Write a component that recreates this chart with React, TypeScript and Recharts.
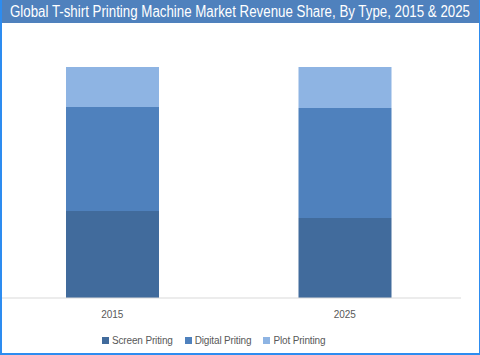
import { BarChart, Bar, XAxis, YAxis, Legend } from 'recharts'

const years = ['2015', '2025']
const screenPrinting = [37.7, 34.6]
const digitalPrinting = [45.0, 47.7]
const plotPrinting = [17.3, 17.7]

const seriesNames = ['Screen Priting', 'Digital Priting', 'Plot Printing']
const seriesColors = ['#416B9C', '#4F81BD', '#8EB4E3']

const chartData = years.map((year, i) => ({
  year,
  screen: screenPrinting[i],
  digital: digitalPrinting[i],
  plot: plotPrinting[i],
}))

const font = '"Liberation Sans", Arial, sans-serif'

function LegendContent({ payload }: { payload?: any[] }) {
  const items = [...(payload || [])].sort(
    (a, b) => seriesNames.indexOf(a.value) - seriesNames.indexOf(b.value)
  )
  return (
    <div style={{ height: 20, display: 'flex', alignItems: 'center', paddingLeft: 106 }}>
      {items.map((entry) => (
        <div key={entry.value} style={{ display: 'flex', alignItems: 'center', marginRight: 12 }}>
          <span style={{ width: 7, height: 7, background: entry.color, marginRight: 3 }} />
          <span style={{ fontSize: 10, color: '#595959', fontFamily: font, letterSpacing: -0.15 }}>
            {entry.value}
          </span>
        </div>
      ))}
    </div>
  )
}

export default function App() {
  return (
    <div
      style={{
        position: 'absolute',
        left: 0,
        top: 0,
        width: 480,
        height: 355,
        boxSizing: 'border-box',
        borderLeft: '2px solid #2D8CF0',
        borderRight: '1px solid #2D8CF0',
        borderBottom: '2px solid #2D8CF0',
        background: '#fff',
        overflow: 'hidden',
      }}
    >
      <svg width={480} height={23} style={{ position: 'absolute', left: -2, top: 0 }}>
        <rect x={0} y={0} width={480} height={23} fill="#4F81BD" />
        <text
          x={10}
          y={17}
          fill="#fff"
          fontSize={16}
          fontFamily={font}
          textLength={460}
          lengthAdjust="spacingAndGlyphs"
        >
          Global T-shirt Printing Machine Market Revenue Share, By Type, 2015 &amp; 2025
        </text>
      </svg>
      <div style={{ position: 'absolute', left: -6, top: 0 }}>
        <BarChart
          width={465}
          height={355}
          data={chartData}
          margin={{ top: 67, right: 0, left: 0, bottom: 5 }}
        >
          <XAxis
            dataKey="year"
            height={32}
            axisLine={{ stroke: '#D9D9D9' }}
            tickLine={false}
            tickSize={0}
            tickMargin={13}
            tick={{ fontSize: 10, fill: '#595959', fontFamily: font }}
          />
          <YAxis hide domain={[0, 100]} />
          <Legend verticalAlign="bottom" content={<LegendContent />} />
          <Bar dataKey="screen" name={seriesNames[0]} stackId="a" fill={seriesColors[0]} barSize={93} isAnimationActive={false} />
          <Bar dataKey="digital" name={seriesNames[1]} stackId="a" fill={seriesColors[1]} barSize={93} isAnimationActive={false} />
          <Bar dataKey="plot" name={seriesNames[2]} stackId="a" fill={seriesColors[2]} barSize={93} isAnimationActive={false} />
        </BarChart>
      </div>
    </div>
  )
}
